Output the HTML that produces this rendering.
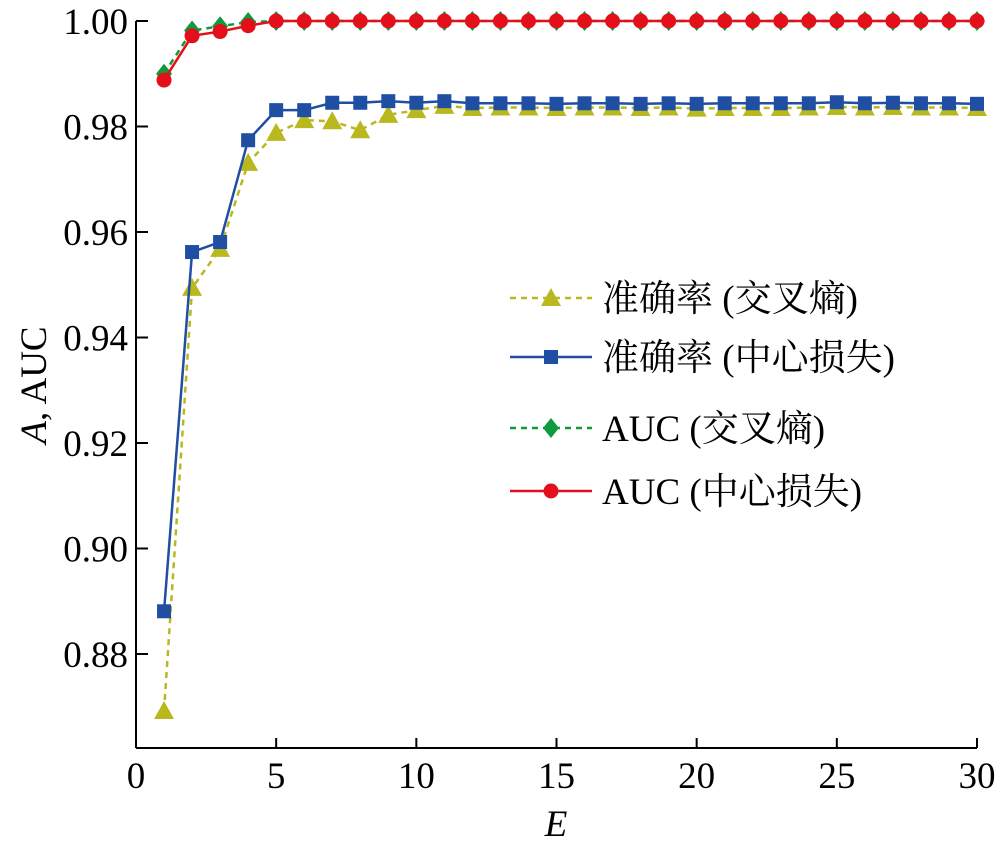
<!DOCTYPE html>
<html><head><meta charset="utf-8"><style>
body{margin:0;background:#fff}
svg text{font-family:"Liberation Serif","Times New Roman",Times,"Noto Serif CJK SC","Noto Sans CJK SC",serif;fill:#000}
</style></head><body>
<svg id="c" width="1000" height="850" xmlns="http://www.w3.org/2000/svg"></svg>
<script>
const epochs=[1,2,3,4,5,6,7,8,9,10,11,12,13,14,15,16,17,18,19,20,21,22,23,24,25,26,27,28,29,30];
const accCE=[0.8692,0.9494,0.9568,0.9731,0.9788,0.9812,0.9810,0.9793,0.9822,0.9831,0.9839,0.9835,0.9836,0.9836,0.9835,0.9836,0.9836,0.9835,0.9836,0.9834,0.9835,0.9835,0.9835,0.9836,0.9837,0.9836,0.9837,0.9836,0.9836,0.9835];
const accCL=[0.8881,0.9562,0.9581,0.9774,0.9831,0.9831,0.9845,0.9845,0.9848,0.9845,0.9848,0.9844,0.9844,0.9844,0.9843,0.9844,0.9844,0.9843,0.9844,0.9843,0.9844,0.9844,0.9844,0.9844,0.9846,0.9844,0.9845,0.9844,0.9844,0.9843];
const aucCE=[0.9900,0.9982,0.9990,0.9998,1,1,1,1,1,1,1,1,1,1,1,1,1,1,1,1,1,1,1,1,1,1,1,1,1,1];
const aucCL=[0.9888,0.9972,0.9980,0.9991,1,1,1,1,1,1,1,1,1,1,1,1,1,1,1,1,1,1,1,1,1,1,1,1,1,1];
const xTicks=[0,5,10,15,20,25,30];
const yTicks=[0.88,0.90,0.92,0.94,0.96,0.98,1.00];
const X0=136,X1=977,Y0=748;
const xs=v=>X0+(v-0)/30*(X1-X0);
const ys=v=>21+(1-v)/0.02*105.5;
const svg=document.getElementById('c');
const NS='http://www.w3.org/2000/svg';
function mk(t,a,p){const e=document.createElementNS(NS,t);for(const k in a)e.setAttribute(k,a[k]);(p||svg).appendChild(e);return e;}
let e;
e=mk('line',{x1:X0,y1:21,x2:X0,y2:Y0,stroke:'#000','stroke-width':2});


e=mk('line',{x1:X0,y1:Y0,x2:X1,y2:Y0,stroke:'#000','stroke-width':2});


xTicks.forEach(t=>{
 e=mk('line',{x1:xs(t),y1:Y0,x2:xs(t),y2:Y0-10,stroke:'#000','stroke-width':2});
 
 
 e=mk('text',{x:xs(t),y:Y0+40,'font-size':37,'text-anchor':'middle'});e.textContent=t;
 
 
});
yTicks.forEach(t=>{
 e=mk('line',{x1:X0,y1:ys(t),x2:X0+12,y2:ys(t),stroke:'#000','stroke-width':2});
 
 
 e=mk('text',{x:X0-8,y:ys(t)+13,'font-size':37,'text-anchor':'end'});e.textContent=t.toFixed(2);
 
 
});
e=mk('text',{x:556,y:836,'font-size':37,'text-anchor':'middle','font-style':'italic'});e.textContent='E';


e=mk('text',{x:0,y:0,'font-size':37,'text-anchor':'middle',transform:'translate(46,385) rotate(-90)'});
e.innerHTML='<tspan font-style="italic">A</tspan>, AUC';


function marker(kind,x,y,c,g){
 if(kind==='tri')return mk('polygon',{points:`${x},${y-10} ${x-10},${y+8} ${x+10},${y+8}`,fill:c},g);
 if(kind==='sq')return mk('rect',{x:x-7,y:y-7,width:14,height:14,fill:c},g);
 if(kind==='dia')return mk('polygon',{points:`${x},${y-10} ${x+8},${y} ${x},${y+10} ${x-8},${y}`,fill:c},g);
 return mk('circle',{cx:x,cy:y,r:7.5,fill:c},g);
}
const series=[
 {d:accCE,c:'#b9b81f',dash:'6,5',m:'tri',n:'series-accuracy-cross-entropy',lab:'准确率 (交叉熵)',ly:298},
 {d:accCL,c:'#1f4ea3',dash:'',m:'sq',n:'series-accuracy-center-loss',lab:'准确率 (中心损失)',ly:357},
 {d:aucCE,c:'#0f9a3c',dash:'6,5',m:'dia',n:'series-auc-cross-entropy',lab:'AUC (交叉熵)',ly:428},
 {d:aucCL,c:'#e3101c',dash:'',m:'circ',n:'series-auc-center-loss',lab:'AUC (中心损失)',ly:491}
];
series.forEach(s=>{
 const g=mk('g',{});
 
 
 const pts=epochs.map((x,i)=>xs(x)+','+ys(s.d[i])).join(' ');
 const a={points:pts,fill:'none',stroke:s.c,'stroke-width':2.5};if(s.dash)a['stroke-dasharray']=s.dash;
 mk('polyline',a,g);
 epochs.forEach((x,i)=>marker(s.m,xs(x),ys(s.d[i]),s.c,g));
 const lg=mk('g',{});
 
 
 const la={x1:510,y1:s.ly,x2:592,y2:s.ly,stroke:s.c,'stroke-width':2.5};if(s.dash)la['stroke-dasharray']=s.dash;
 mk('line',la,lg);
 marker(s.m,551,s.ly,s.c,lg);
 const t=mk('text',{x:602,y:s.ly+13,'font-size':37},lg);t.textContent=s.lab;
});
</script>
</body></html>
